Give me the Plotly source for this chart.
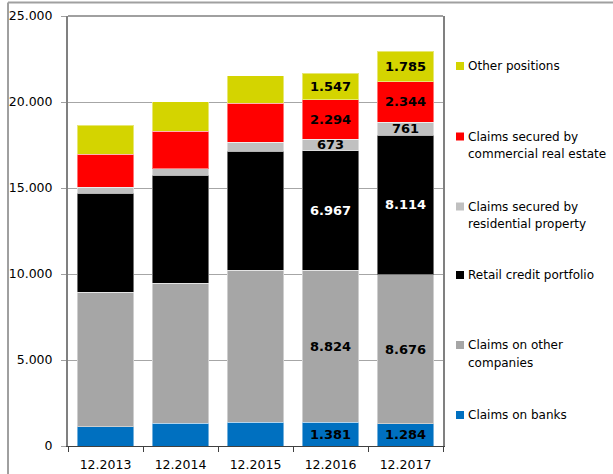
import plotly.graph_objects as go

# ---- data -------------------------------------------------------------
categories = ["12.2013", "12.2014", "12.2015", "12.2016", "12.2017"]

claims_on_banks = [1105, 1337, 1395, 1381, 1284]
claims_on_other_companies = [7848, 8122, 8820, 8824, 8676]
retail_credit_portfolio = [5756, 6297, 6936, 6967, 8114]
secured_by_residential = [349, 349, 506, 673, 761]
secured_by_commercial = [1901, 2191, 2285, 2294, 2344]
other_positions = [1704, 1727, 1570, 1547, 1785]

# years whose segments carry value labels
labelled_years = ["12.2016", "12.2017"]

series_names = [
    "Claims on banks",
    "Claims on other companies",
    "Retail credit portfolio",
    "Claims secured by residential property",
    "Claims secured by commercial real estate",
    "Other positions",
]
series_values = [
    claims_on_banks,
    claims_on_other_companies,
    retail_credit_portfolio,
    secured_by_residential,
    secured_by_commercial,
    other_positions,
]
legend_lines = [
    ["Claims on banks"],
    ["Claims on other", "companies"],
    ["Retail credit portfolio"],
    ["Claims secured by", "residential property"],
    ["Claims secured by", "commercial real estate"],
    ["Other positions"],
]

# ---- styling ----------------------------------------------------------
colors = ["#0070C0", "#A6A6A6", "#000000", "#C0C0C0", "#FF0000", "#D4D400"]
label_colors = ["black", "black", "white", "black", "black", "black"]
FONT = "DejaVu Sans"

W, H = 613, 474
ML, MR, MT, MB = 68, 170, 16, 28
PW, PH = W - ML - MR, H - MT - MB


def paper_x(px):
    return (px - ML) / PW


def paper_y(py):
    return (H - MB - py) / PH


def de_number(v):
    return f"{v:,}".replace(",", ".")


fig = go.Figure()

for name, vals, col, lcol in zip(series_names, series_values, colors, label_colors):
    texts = [de_number(v) if c in labelled_years else "" for c, v in zip(categories, vals)]
    fig.add_trace(
        go.Bar(
            name=name,
            x=categories,
            y=vals,
            marker=dict(color=col, line=dict(color="rgba(255,255,255,0.45)", width=1)),
            text=texts,
            textposition="inside",
            insidetextanchor="middle",
            textangle=0,
            constraintext="none",
            textfont=dict(family=FONT, size=13, color=lcol, weight="bold"),
            showlegend=False,
            hovertemplate="%{x}: %{y:,.0f}<extra>" + name + "</extra>",
        )
    )

# ---- legend drawn beside the plot ----------------------------------------
# first-line centre (px from top) for each entry, bottom series first
legend_rows_px = [415, 345, 275, 206.5, 136.5, 66]
line_step_px = 17.5
marker_cx_px = 460
text_x_px = 467

shapes = []
annotations = []
for lines, col, y0 in zip(legend_lines, colors, legend_rows_px):
    shapes.append(
        dict(
            type="rect", xref="paper", yref="paper",
            xsizemode="pixel", ysizemode="pixel",
            xanchor=paper_x(marker_cx_px), yanchor=paper_y(y0),
            x0=-4, x1=4, y0=-4, y1=4,
            fillcolor=col, line=dict(width=0),
        )
    )
    for i, line in enumerate(lines):
        annotations.append(
            dict(
                text=line, xref="paper", yref="paper",
                x=paper_x(text_x_px), y=paper_y(y0 + i * line_step_px),
                xanchor="left", yanchor="middle", showarrow=False,
                xshift=-1,
                font=dict(family=FONT, size=12, color="black"),
            )
        )

# top edge of the plot frame
shapes.append(dict(type="line", xref="paper", yref="paper",
                   x0=0, x1=1, y0=1, y1=1,
                   line=dict(color="#808080", width=1.5)))

# outer frame of the chart panel
shapes.append(dict(type="line", xref="paper", yref="paper",
                   x0=paper_x(8), x1=paper_x(8), y0=paper_y(2.5), y1=paper_y(480),
                   line=dict(color="#404040", width=1)))
shapes.append(dict(type="line", xref="paper", yref="paper",
                   x0=paper_x(8), x1=paper_x(620), y0=paper_y(2.5), y1=paper_y(2.5),
                   line=dict(color="#A0A0A0", width=2)))

fig.update_layout(
    barmode="stack",
    bargap=0.25,
    width=W,
    height=H,
    margin=dict(l=ML, r=MR, t=MT, b=MB, pad=0, autoexpand=False),
    paper_bgcolor="white",
    plot_bgcolor="white",
    separators=",.",
    font=dict(family=FONT, size=12.5, color="black"),
    uniformtext=dict(minsize=13, mode="show"),
    shapes=shapes,
    annotations=annotations,
    xaxis=dict(
        type="category",
        automargin=False,
        tickson="boundaries",
        ticks="outside",
        ticklen=5,
        tickcolor="#404040",
        showgrid=False,
        showline=True,
        linecolor="#404040",
        linewidth=1,
        ticklabelstandoff=7,
        tickfont=dict(family=FONT, size=12.5, color="black"),
    ),
    yaxis=dict(
        range=[0, 25000],
        automargin=False,
        dtick=5000,
        tickformat=",.0f",
        ticks="outside",
        ticklen=5,
        tickcolor="#A0A0A0",
        showgrid=True,
        gridcolor="#A6A6A6",
        gridwidth=1,
        showline=True,
        linecolor="#808080",
        linewidth=2,
        mirror=True,
        zeroline=False,
        ticklabelstandoff=6,
        tickfont=dict(family=FONT, size=12.5, color="black"),
    ),
)

fig.write_html("out.html")
